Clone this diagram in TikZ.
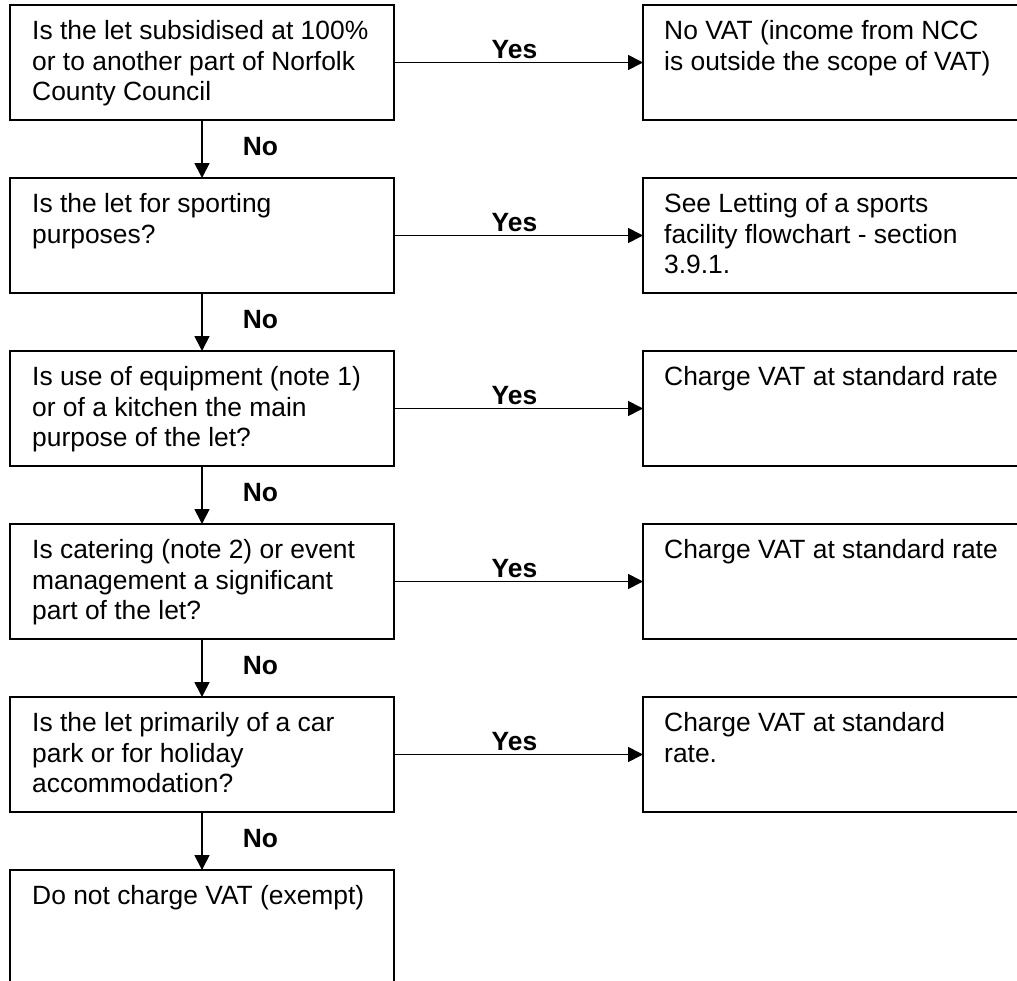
\documentclass[tikz,border=0pt]{standalone}
\usepackage{fontspec}
\setmainfont{Liberation Sans}
\usetikzlibrary{arrows.meta}
\newcommand\boxlines[1]{\begin{tabular}[t]{@{}l@{}}#1\end{tabular}}
\begin{document}
\begin{tikzpicture}[x=1pt,y=-1pt,
  boxshape/.style={draw, line width=2pt, rectangle, inner sep=0pt, outer sep=0pt, anchor=north west},
  qbox/.style={boxshape, minimum width=384pt, minimum height=115pt},
  rbox/.style={boxshape, minimum width=420pt, minimum height=115pt},
  qtext/.style={anchor=base west, inner sep=0pt, font=\fontsize{26.4}{30.7}\selectfont},
  lab/.style={font=\fontsize{26.4}{30.7}\selectfont\bfseries, inner sep=0pt},
  yeslab/.style={lab, anchor=base, xshift=-4pt, yshift=4.5pt},
  nolab/.style={lab, anchor=base west, xshift=40pt, yshift=-6pt},
  arr/.style={line width=1.7pt, -{Triangle[length=15pt,width=15pt]}}]
\useasboundingbox (0,0) rectangle (1017,980);
\clip (0,0) rectangle (1017,980);

% left column
\node[qbox] (q1) at (10,5) {};
\node[qbox] (q2) at (10,178) {};
\node[qbox] (q3) at (10,351) {};
\node[qbox] (q4) at (10,524) {};
\node[qbox] (q5) at (10,697) {};
\node[boxshape, minimum width=384pt, minimum height=140pt] (q6) at (10,870) {};

% right column
\node[rbox] (r1) at (643,5) {};
\node[rbox] (r2) at (643,178) {};
\node[rbox] (r3) at (643,351) {};
\node[rbox] (r4) at (643,524) {};
\node[rbox] (r5) at (643,697) {};

% texts
\node[qtext] (tq1) at ([xshift=22pt,yshift=-34.3pt]q1.north west) {\boxlines{Is the let subsidised at 100\%\\or to another part of Norfolk\\County Council}};
\node[qtext] (tq2) at ([xshift=22pt,yshift=-34.3pt]q2.north west) {\boxlines{Is the let for sporting\\purposes?}};
\node[qtext] (tq3) at ([xshift=22pt,yshift=-34.3pt]q3.north west) {\boxlines{Is use of equipment (note 1)\\or of a kitchen the main\\purpose of the let?}};
\node[qtext] (tq4) at ([xshift=22pt,yshift=-34.3pt]q4.north west) {\boxlines{Is catering (note 2) or event\\management a significant\\part of the let?}};
\node[qtext] (tq5) at ([xshift=22pt,yshift=-34.3pt]q5.north west) {\boxlines{Is the let primarily of a car\\park or for holiday\\accommodation?}};
\node[qtext] (tq6) at ([xshift=22pt,yshift=-34.3pt]q6.north west) {\boxlines{Do not charge VAT (exempt)}};

\node[qtext] (tr1) at ([xshift=21pt,yshift=-34.3pt]r1.north west) {\boxlines{No VAT (income from NCC\\is outside the scope of VAT)}};
\node[qtext] (tr2) at ([xshift=21pt,yshift=-34.3pt]r2.north west) {\boxlines{See Letting of a sports\\facility flowchart - section\\3.9.1.}};
\node[qtext] (tr3) at ([xshift=21pt,yshift=-34.3pt]r3.north west) {\boxlines{Charge VAT at standard rate}};
\node[qtext] (tr4) at ([xshift=21pt,yshift=-34.3pt]r4.north west) {\boxlines{Charge VAT at standard rate}};
\node[qtext] (tr5) at ([xshift=21pt,yshift=-34.3pt]r5.north west) {\boxlines{Charge VAT at standard\\rate.}};

% Yes arrows
\draw[arr] (q1.east) -- node[yeslab] (y1) {Yes} (r1.west);
\draw[arr] (q2.east) -- node[yeslab] (y2) {Yes} (r2.west);
\draw[arr] (q3.east) -- node[yeslab] (y3) {Yes} (r3.west);
\draw[arr] (q4.east) -- node[yeslab] (y4) {Yes} (r4.west);
\draw[arr] (q5.east) -- node[yeslab] (y5) {Yes} (r5.west);

% No arrows
\draw[arr] (q1.south) -- node[nolab] (n1) {No} (q2.north);
\draw[arr] (q2.south) -- node[nolab] (n2) {No} (q3.north);
\draw[arr] (q3.south) -- node[nolab] (n3) {No} (q4.north);
\draw[arr] (q4.south) -- node[nolab] (n4) {No} (q5.north);
\draw[arr] (q5.south) -- node[nolab] (n5) {No} (q6.north);
\end{tikzpicture}
\end{document}
